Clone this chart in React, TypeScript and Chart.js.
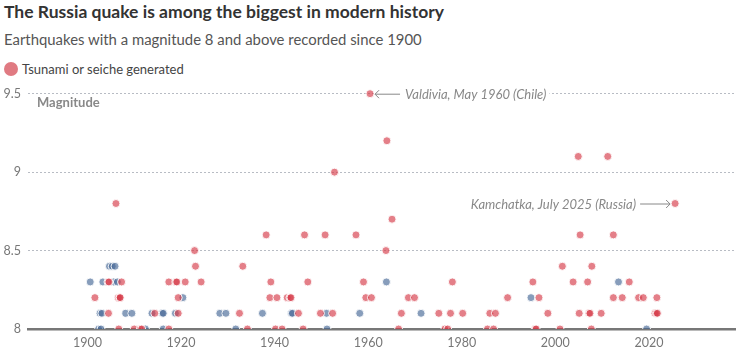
import React, { useEffect, useRef } from "react";
import { Chart, registerables } from "chart.js";

Chart.register(...registerables);

// [year, magnitude] — tsunami or seiche generated
const tsunamiYears = [
  1906.7, 1910.0, 1911.3, 1911.6, 1917.4, 1934.2, 1940.2, 1941.6, 1946.1, 1966.5, 1976.4, 1977.0, 1985.5, 1986.8, 1995.7, 1995.9, 2001.0, 2007.7,
  1904.5, 1914.4, 1919.4, 1932.5, 1945.1, 1949.8, 1952.4, 1967.1, 1975.1, 1977.6, 1980.2, 1986.0, 1987.2, 1998.4, 2005.1, 2007.2, 2007.4, 2009.8, 2021.3, 2021.6, 2021.8,
  1901.6, 1906.6, 1906.9, 1907.0, 1919.4, 1939.0, 1940.5, 1942.7, 1943.3, 1943.5, 1959.5, 1960.7, 1968.6, 1969.9, 1989.8, 1996.5, 2012.4, 2014.3, 2017.8, 2018.8, 2021.7,
  1904.4, 1904.6, 1907.3, 1917.4, 1918.9, 1919.1, 1920.9, 1924.3, 1939.2, 1947.1, 1959.0, 1978.0, 1995.2, 2003.8, 2006.9, 2015.8,
  1923.1, 1933.2, 2001.5, 2007.8,
  1922.9, 1963.8,
  1938.2, 1946.4, 1950.8, 1957.4, 2005.3, 2012.4,
  1965.1,
  1906.1, 2025.6,
  1952.8,
  2004.9, 2011.2,
  1964.0,
  1960.4,
];
const tsunamiMags = [
  8.0, 8.0, 8.0, 8.0, 8.0, 8.0, 8.0, 8.0, 8.0, 8.0, 8.0, 8.0, 8.0, 8.0, 8.0, 8.0, 8.0, 8.0,
  8.1, 8.1, 8.1, 8.1, 8.1, 8.1, 8.1, 8.1, 8.1, 8.1, 8.1, 8.1, 8.1, 8.1, 8.1, 8.1, 8.1, 8.1, 8.1, 8.1, 8.1,
  8.2, 8.2, 8.2, 8.2, 8.2, 8.2, 8.2, 8.2, 8.2, 8.2, 8.2, 8.2, 8.2, 8.2, 8.2, 8.2, 8.2, 8.2, 8.2, 8.2, 8.2,
  8.3, 8.3, 8.3, 8.3, 8.3, 8.3, 8.3, 8.3, 8.3, 8.3, 8.3, 8.3, 8.3, 8.3, 8.3, 8.3,
  8.4, 8.4, 8.4, 8.4,
  8.5, 8.5,
  8.6, 8.6, 8.6, 8.6, 8.6, 8.6,
  8.7,
  8.8, 8.8,
  9.0,
  9.1, 9.1,
  9.2,
  9.5,
];

// [year, magnitude] — no tsunami
const otherYears = [
  1902.4, 1902.9, 1912.4, 1916.2, 1931.7, 1951.2, 2019.5,
  1902.7, 1903.1, 1908.2, 1909.5, 1913.8, 1916.0, 1916.2, 1918.8, 1928.3, 1929.6, 1937.4, 1943.6, 1943.8, 1951.1, 1958.2, 1971.3,
  1920.4, 1994.8,
  1900.6, 1903.3, 1905.6, 1906.4, 1963.9, 2013.5,
  1904.7, 1905.3, 1905.9,
];
const otherMags = [
  8.0, 8.0, 8.0, 8.0, 8.0, 8.0, 8.0,
  8.1, 8.1, 8.1, 8.1, 8.1, 8.1, 8.1, 8.1, 8.1, 8.1, 8.1, 8.1, 8.1, 8.1, 8.1, 8.1,
  8.2, 8.2,
  8.3, 8.3, 8.3, 8.3, 8.3, 8.3,
  8.4, 8.4, 8.4,
];

const xTicks = [1900, 1920, 1940, 1960, 1980, 2000, 2020];
const yTicks = [8, 8.5, 9, 9.5];

const title = "The Russia quake is among the biggest in modern history";
const subtitle = "Earthquakes with a magnitude 8 and above recorded since 1900";
const legendLabel = "Tsunami or seiche generated";
const yAxisTitle = "Magnitude";
const valdivia = { year: 1960.4, mag: 9.5, label: "Valdivia, May 1960 (Chile)" };
const kamchatka = { year: 2025.6, mag: 8.8, label: "Kamchatka, July 2025 (Russia)" };

const RED = "rgba(214, 58, 72, 0.65)";
const BLUE = "rgba(70, 105, 150, 0.65)";
const FONT = "Lato, 'Noto Sans', sans-serif";

const annotations = {
  id: "annotations",
  afterDatasetsDraw(chart: any) {
    const { ctx, chartArea, scales } = chart;
    const xs = scales.x;
    const ys = scales.y;
    ctx.save();
    // Magnitude label
    ctx.font = `bold 13px ${FONT}`;
    ctx.fillStyle = "#888";
    ctx.textAlign = "left";
    ctx.textBaseline = "middle";
    ctx.fillText(yAxisTitle, chartArea.left + 9, ys.getPixelForValue(9.5) + 9);

    ctx.font = `italic 13px ${FONT}`;
    ctx.strokeStyle = "#888";
    ctx.lineWidth = 1;

    // Valdivia
    {
      const px = xs.getPixelForValue(valdivia.year);
      const py = ys.getPixelForValue(valdivia.mag);
      const tw = ctx.measureText(valdivia.label).width;
      ctx.fillStyle = "#fff";
      ctx.fillRect(px + 5, py - 6, 35 + tw - 5 + 3, 12);
      ctx.beginPath();
      ctx.moveTo(px + 30, py + 0.5);
      ctx.lineTo(px + 5, py + 0.5);
      ctx.moveTo(px + 9, py - 3.5);
      ctx.lineTo(px + 5, py + 0.5);
      ctx.lineTo(px + 9, py + 4.5);
      ctx.stroke();
      ctx.fillStyle = "#888";
      ctx.textAlign = "left";
      ctx.fillText(valdivia.label, px + 35, py + 1);
    }
    // Kamchatka
    {
      const px = xs.getPixelForValue(kamchatka.year);
      const py = ys.getPixelForValue(kamchatka.mag);
      ctx.beginPath();
      ctx.moveTo(px - 35, py + 0.5);
      ctx.lineTo(px - 5, py + 0.5);
      ctx.moveTo(px - 9, py - 3.5);
      ctx.lineTo(px - 5, py + 0.5);
      ctx.lineTo(px - 9, py + 4.5);
      ctx.stroke();
      ctx.fillStyle = "#888";
      ctx.textAlign = "right";
      ctx.fillText(kamchatka.label, px - 39, py + 1);
    }
    ctx.restore();
  },
};

export default function App() {
  const ref = useRef<HTMLCanvasElement>(null);

  useEffect(() => {
    if (!ref.current) return;
    const chart = new Chart(ref.current, {
      type: "scatter",
      data: {
        datasets: [
          {
            label: legendLabel,
            data: tsunamiYears.map((x, i) => ({ x, y: tsunamiMags[i] })),
            backgroundColor: RED,
            borderColor: "rgba(255,255,255,0.9)",
            borderWidth: 1,
            pointRadius: 4,
            pointHoverRadius: 4,
          },
          {
            label: "No tsunami",
            data: otherYears.map((x, i) => ({ x, y: otherMags[i] })),
            backgroundColor: BLUE,
            borderColor: "rgba(255,255,255,0.9)",
            borderWidth: 1,
            pointRadius: 4,
            pointHoverRadius: 4,
          },
        ],
      },
      options: {
        responsive: false,
        animation: false,
        events: [],
        layout: { padding: { top: 78, right: 6, left: 0, bottom: 0 } },
        plugins: {
          legend: { display: false },
          tooltip: { enabled: false },
          title: { display: false },
        },
        scales: {
          x: {
            type: "linear",
            min: 1887.3,
            max: 2038.4,
            afterBuildTicks: (s: any) => {
              s.ticks = xTicks.map((v) => ({ value: v }));
            },
            afterFit: (s: any) => {
              s.height = 30;
            },
            grid: { display: false, drawTicks: false },
            border: { display: true, color: "#777", width: 2.5 },
            ticks: {
              padding: 6,
              color: "#777",
              font: { family: FONT, size: 12.5 },
              callback: (v: any) => String(v),
            },
          },
          y: {
            type: "linear",
            min: 8,
            max: 9.6,
            afterBuildTicks: (s: any) => {
              s.ticks = yTicks.map((v) => ({ value: v }));
            },
            afterFit: (s: any) => {
              s.width = 28;
            },
            grid: {
              drawTicks: false,
              color: (c: any) => (c.tick && c.tick.value === 8 ? "rgba(0,0,0,0)" : "#b8bcc4"),
              lineWidth: 1,
            },
            border: { display: false, dash: [2, 2] },
            ticks: {
              padding: 7,
              color: "#777",
              font: { family: FONT, size: 12.5 },
              callback: (v: any) => String(v),
            },
          },
        },
      },
      plugins: [annotations],
    });
    return () => chart.destroy();
  }, []);

  return (
    <div style={{ position: "fixed", left: 0, top: 0, width: 741, height: 359, background: "#fff", fontFamily: FONT }}>
      <div style={{ position: "absolute", left: 4, top: 1, fontSize: 17.5, fontWeight: 700, color: "#333", whiteSpace: "nowrap" }}>
        {title}
      </div>
      <div style={{ position: "absolute", left: 4, top: 30, fontSize: 14.9, color: "#555", whiteSpace: "nowrap" }}>
        {subtitle}
      </div>
      <div style={{ position: "absolute", left: 4, top: 61, fontSize: 13, color: "#444", whiteSpace: "nowrap", display: "flex", alignItems: "center" }}>
        <span style={{ display: "inline-block", width: 14, height: 14, borderRadius: 7, background: "rgb(224,122,130)", marginRight: 4 }} />
        {legendLabel}
      </div>
      <canvas ref={ref} width={741} height={359} style={{ position: "absolute", left: 0, top: 0, width: 741, height: 359 }} />
    </div>
  );
}
